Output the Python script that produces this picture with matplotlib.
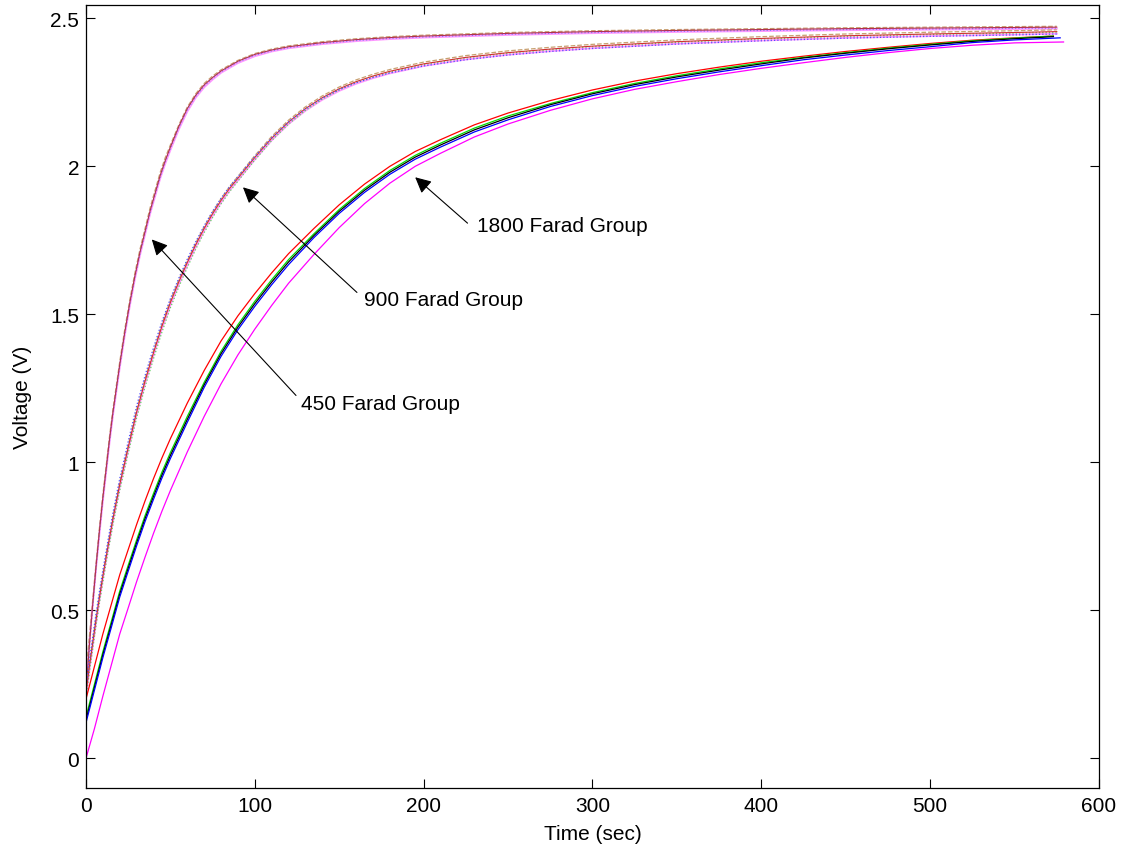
import matplotlib
matplotlib.use("Agg")
import matplotlib.pyplot as plt

plt.rcParams['font.family'] = ['Liberation Sans', 'DejaVu Sans']

# ---- 450 F group (sample times in s, voltages in V) ----
t450 = [0, 1, 2, 3, 4, 6, 8, 10, 12, 14, 16, 18, 20, 23, 26, 29, 32, 35, 38, 41,
        44, 47, 50, 55, 60, 65, 70, 75, 80, 90, 100, 110, 120, 140, 160, 180, 200, 250,
        300, 350, 400, 450, 500, 550, 575]
v450_red = [0.22, 0.30, 0.38, 0.45, 0.52, 0.65, 0.77, 0.88, 0.98, 1.08, 1.17, 1.25, 1.33, 1.44, 1.54,
            1.63, 1.71, 1.78, 1.85, 1.91, 1.97, 2.02, 2.065, 2.135, 2.195, 2.24, 2.275, 2.30, 2.322,
            2.355, 2.378, 2.393, 2.404, 2.418, 2.428, 2.435, 2.44, 2.449, 2.455, 2.459, 2.462, 2.465,
            2.467, 2.469, 2.47]
v450_mag = [0.26, 0.32, 0.39, 0.455, 0.52, 0.645, 0.76, 0.87, 0.97, 1.07, 1.16, 1.24, 1.32, 1.43, 1.53,
            1.62, 1.70, 1.77, 1.84, 1.90, 1.96, 2.01, 2.055, 2.125, 2.185, 2.232, 2.267, 2.293, 2.316,
            2.349, 2.372, 2.388, 2.399, 2.413, 2.423, 2.43, 2.435, 2.444, 2.45, 2.454, 2.457, 2.46,
            2.462, 2.464, 2.465]
v450_blu = [0.18, 0.28, 0.37, 0.445, 0.515, 0.645, 0.765, 0.875, 0.975, 1.075, 1.165, 1.245, 1.325, 1.435,
            1.535, 1.625, 1.705, 1.775, 1.845, 1.905, 1.965, 2.015, 2.06, 2.13, 2.19, 2.236, 2.271, 2.297,
            2.319, 2.352, 2.375, 2.39, 2.401, 2.415, 2.425, 2.432, 2.437, 2.446, 2.452, 2.456, 2.459,
            2.462, 2.464, 2.466, 2.467]
v450_tan = [0.30, 0.35, 0.41, 0.47, 0.535, 0.66, 0.78, 0.89, 0.99, 1.09, 1.18, 1.26, 1.34, 1.45, 1.55,
            1.64, 1.72, 1.79, 1.86, 1.92, 1.98, 2.03, 2.072, 2.14, 2.2, 2.245, 2.28, 2.305, 2.326, 2.358,
            2.381, 2.396, 2.407, 2.421, 2.431, 2.438, 2.443, 2.452, 2.458, 2.462, 2.465, 2.468, 2.47,
            2.472, 2.473]

# ---- 900 F group ----
t900 = [0, 2, 4, 6, 8, 10, 13, 16, 20, 25, 30, 35, 40, 45, 50, 55, 60, 65, 70, 75, 80, 85, 90, 95,
        100, 110, 120, 130, 140, 150, 160, 170, 180, 200, 225, 250, 275, 300, 350, 400, 450, 500,
        550, 575]
v900_red = [0.22, 0.31, 0.39, 0.47, 0.545, 0.615, 0.715, 0.81, 0.925, 1.05, 1.17, 1.275, 1.37, 1.46,
            1.54, 1.61, 1.675, 1.735, 1.79, 1.84, 1.885, 1.925, 1.96, 1.995, 2.03, 2.095, 2.15, 2.195,
            2.232, 2.262, 2.286, 2.305, 2.321, 2.346, 2.368, 2.384, 2.396, 2.406, 2.421, 2.432, 2.441,
            2.447, 2.452, 2.455]
v900_blu = [0.24, 0.33, 0.41, 0.49, 0.565, 0.635, 0.735, 0.83, 0.945, 1.07, 1.19, 1.293, 1.387, 1.475,
            1.553, 1.622, 1.686, 1.745, 1.799, 1.848, 1.892, 1.931, 1.965, 1.999, 2.033, 2.096, 2.15,
            2.194, 2.23, 2.259, 2.282, 2.3, 2.315, 2.339, 2.36, 2.376, 2.388, 2.398, 2.413, 2.424,
            2.433, 2.439, 2.444, 2.447]
v900_grn = [0.20, 0.29, 0.37, 0.45, 0.525, 0.595, 0.695, 0.79, 0.905, 1.03, 1.15, 1.255, 1.35, 1.44,
            1.522, 1.593, 1.658, 1.72, 1.776, 1.827, 1.873, 1.914, 1.95, 1.986, 2.021, 2.087, 2.143,
            2.189, 2.227, 2.258, 2.283, 2.302, 2.318, 2.344, 2.366, 2.382, 2.394, 2.404, 2.419, 2.43,
            2.439, 2.445, 2.45, 2.453]
v900_mag = [0.21, 0.30, 0.38, 0.46, 0.537, 0.607, 0.707, 0.802, 0.917, 1.042, 1.162, 1.267, 1.362, 1.452,
            1.532, 1.602, 1.667, 1.728, 1.783, 1.833, 1.878, 1.918, 1.953, 1.988, 2.023, 2.088, 2.143,
            2.188, 2.225, 2.255, 2.279, 2.298, 2.314, 2.339, 2.361, 2.377, 2.389, 2.399, 2.414, 2.425,
            2.434, 2.44, 2.445, 2.448]
v900_tan = [0.23, 0.32, 0.40, 0.478, 0.552, 0.622, 0.722, 0.817, 0.932, 1.057, 1.177, 1.282, 1.377, 1.467,
            1.547, 1.617, 1.681, 1.741, 1.796, 1.846, 1.891, 1.931, 1.966, 2.001, 2.036, 2.101, 2.156,
            2.201, 2.238, 2.268, 2.292, 2.311, 2.327, 2.352, 2.374, 2.39, 2.402, 2.412, 2.427, 2.438,
            2.447, 2.453, 2.458, 2.461]

# ---- 1800 F group ----
t1800 = [0, 5, 10, 15, 20, 25, 30, 35, 40, 45, 50, 55, 60, 70, 80, 90, 100, 110, 120, 135,
         150, 165, 180, 195, 210, 230, 250, 275, 300, 325, 350, 375, 400, 425, 450, 475, 500, 525,
         550, 573]
t1800_blu = t1800[:-1] + [577]
t1800_mag = t1800[:-1] + [579]
v1800_red = [0.20, 0.31, 0.42, 0.52, 0.62, 0.705, 0.79, 0.87, 0.945, 1.015, 1.08, 1.14, 1.20, 1.31,
             1.41, 1.495, 1.57, 1.64, 1.705, 1.79, 1.87, 1.94, 2.00, 2.05, 2.09, 2.14, 2.18, 2.222,
             2.258, 2.288, 2.313, 2.335, 2.355, 2.372, 2.388, 2.402, 2.415, 2.426, 2.434, 2.44]
v1800_grn = [0.14, 0.25, 0.36, 0.462, 0.565, 0.652, 0.738, 0.82, 0.895, 0.967, 1.033, 1.094, 1.155,
             1.27, 1.375, 1.465, 1.544, 1.617, 1.685, 1.772, 1.854, 1.925, 1.986, 2.037, 2.078, 2.129,
             2.17, 2.212, 2.249, 2.28, 2.306, 2.329, 2.35, 2.368, 2.384, 2.399, 2.412, 2.424, 2.433, 2.44]
v1800_blk = [0.13, 0.24, 0.35, 0.452, 0.555, 0.642, 0.728, 0.81, 0.885, 0.957, 1.023, 1.084, 1.145,
             1.262, 1.367, 1.457, 1.536, 1.609, 1.677, 1.766, 1.848, 1.919, 1.98, 2.031, 2.072, 2.123,
             2.164, 2.208, 2.245, 2.276, 2.302, 2.325, 2.346, 2.366, 2.382, 2.397, 2.41, 2.422, 2.431,
             2.438]
v1800_blu = [0.12, 0.23, 0.34, 0.442, 0.545, 0.632, 0.718, 0.80, 0.875, 0.947, 1.013, 1.074, 1.135,
             1.253, 1.358, 1.448, 1.527, 1.60, 1.668, 1.759, 1.841, 1.912, 1.973, 2.024, 2.065, 2.116,
             2.157, 2.202, 2.239, 2.27, 2.296, 2.319, 2.34, 2.36, 2.376, 2.391, 2.404, 2.418, 2.427,
             2.434]
v1800_mag = [0.0, 0.10, 0.21, 0.315, 0.42, 0.508, 0.597, 0.68, 0.76, 0.835, 0.905, 0.97, 1.035, 1.155,
             1.265, 1.363, 1.45, 1.53, 1.605, 1.702, 1.793, 1.874, 1.943, 2.0, 2.044, 2.099, 2.143,
             2.189, 2.228, 2.26, 2.286, 2.31, 2.331, 2.35, 2.368, 2.384, 2.398, 2.409, 2.417, 2.42]

x_ticks = [0, 100, 200, 300, 400, 500, 600]
y_ticks = [0, 0.5, 1, 1.5, 2, 2.5]
y_tick_labels = ['0', '0.5', '1', '1.5', '2', '2.5']

fig = plt.figure(figsize=(11.31, 8.54), dpi=100)
ax = fig.add_axes([0.076, 0.0761, 0.8957, 0.9169])

lw = 0.9

# 450 F traces
ax.plot(t450, v450_mag, color='#ff80ff', lw=1.4, alpha=0.8)
ax.plot(t450, v450_tan, color='#c8a070', lw=lw, ls='--')
ax.plot(t450, v450_blu, color='#8080ff', lw=lw, ls=':')
ax.plot(t450, v450_red, color='#b03050', lw=0.8)

# 900 F traces
ax.plot(t900, v900_mag, color='#ff80ff', lw=1.4, alpha=0.8)
ax.plot(t900, v900_grn, color='#60d060', lw=lw, ls=':')
ax.plot(t900, v900_tan, color='#c8a070', lw=lw, ls='--')
ax.plot(t900, v900_red, color='#d03030', lw=0.8)
ax.plot(t900, v900_blu, color='#5050ff', lw=lw, ls=':')

# 1800 F traces
ax.plot(t1800, v1800_red, color='red', lw=lw)
ax.plot(t1800, v1800_grn, color='#00e000', lw=lw)
ax.plot(t1800, v1800_blk, color='black', lw=lw)
ax.plot(t1800_blu, v1800_blu, color='blue', lw=lw)
ax.plot(t1800_mag, v1800_mag, color='magenta', lw=lw)

ax.set_xlim(0, 600)
ax.set_ylim(-0.1, 2.545)
ax.set_xticks(x_ticks)
ax.set_yticks(y_ticks)
ax.set_yticklabels(y_tick_labels)
ax.tick_params(direction='in', length=6.5, width=0.8, top=True, right=True,
               labelsize=15, colors='black')
ax.tick_params(axis='x', pad=6)
ax.tick_params(axis='y', pad=5)
for s in ax.spines.values():
    s.set_linewidth(0.9)

ax.set_xlabel('Time (sec)', fontsize=15, labelpad=6)
ax.set_ylabel('Voltage (V)', fontsize=15, labelpad=13)

arrow_kw = dict(arrowstyle='-|>', color='black', lw=0.8, mutation_scale=24,
                shrinkA=0, shrinkB=0)
notes = [
    ('1800 Farad Group', (195.0, 1.963), (226.0, 1.808), (231.5, 1.80)),
    ('900 Farad Group', (93.0, 1.929), (160.5, 1.574), (164.5, 1.551)),
    ('450 Farad Group', (39.0, 1.753), (124.4, 1.226), (127.5, 1.199)),
]
for label, tip, tail, pos in notes:
    ax.annotate('', xy=tip, xytext=tail, arrowprops=arrow_kw)
    ax.text(pos[0], pos[1], label, fontsize=15, ha='left', va='center')

fig.savefig('out.png', dpi=100)
